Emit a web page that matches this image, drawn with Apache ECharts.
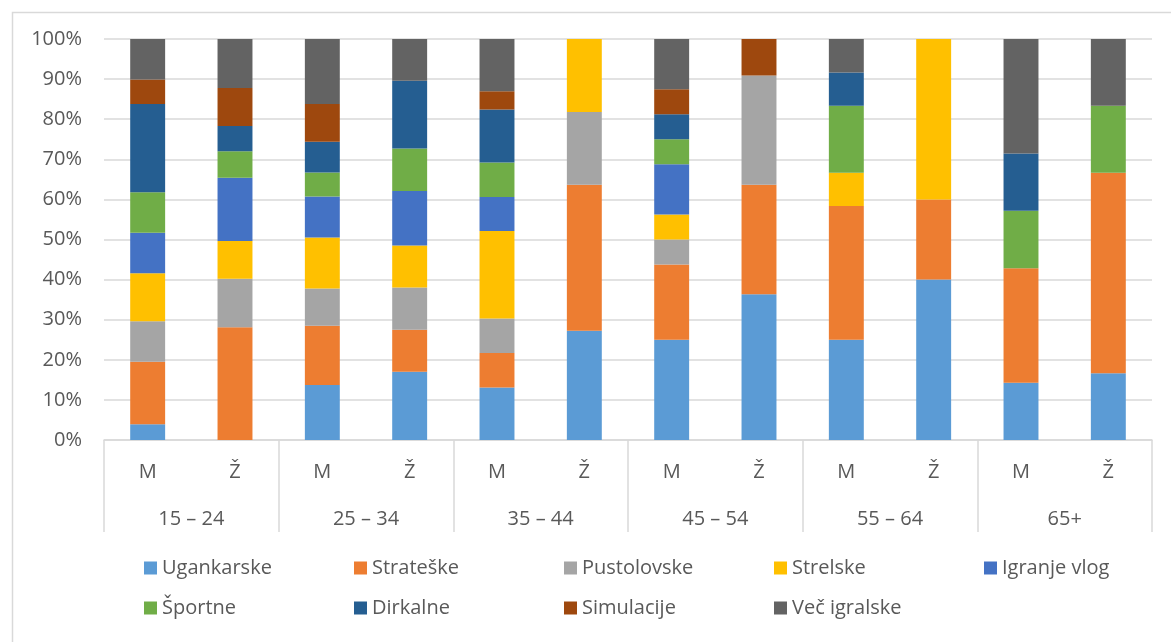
<!DOCTYPE html>
<html>
<head>
<meta charset="utf-8">
<script src="https://cdn.jsdelivr.net/npm/echarts@6/dist/echarts.min.js"></script>
<style>
html,body{margin:0;padding:0;background:#fff;}
#c{width:1171px;height:642px;}
</style>
</head>
<body>
<div id="c"></div>
<script>
// Categories
const genders = ['M','Ž','M','Ž','M','Ž','M','Ž','M','Ž','M','Ž'];
const ageGroups = ['15 – 24','25 – 34','35 – 44','45 – 54','55 – 64','65+'];
const yTicks = [0,10,20,30,40,50,60,70,80,90,100];

// Series values (% of each bar)
const ugankarske  = [3.9, 0,    13.7, 17.0, 13.1, 27.27, 25.0, 36.36, 25.0, 40.0, 14.29, 16.67];
const strateske   = [15.6, 28.1, 14.8, 10.5, 8.6, 36.36, 18.75, 27.27, 33.33, 20.0, 28.57, 50.0];
const pustolovske = [10.1, 12.1, 9.3, 10.5, 8.6, 18.18, 6.25, 27.27, 0, 0, 0, 0];
const strelske    = [12.0, 9.4, 12.7, 10.5, 21.8, 18.18, 6.25, 0, 8.33, 40.0, 0, 0];
const igranjeVlog = [10.1, 15.8, 10.2, 13.6, 8.5, 0, 12.5, 0, 0, 0, 0, 0];
const sportne     = [10.1, 6.6, 6.0, 10.6, 8.6, 0, 6.25, 0, 16.67, 0, 14.29, 16.67];
const dirkalne    = [22.0, 6.3, 7.7, 16.9, 13.2, 0, 6.25, 0, 8.33, 0, 14.29, 0];
const simulacije  = [6.1, 9.5, 9.4, 0, 4.6, 0, 6.25, 9.09, 0, 0, 0, 0];
const vecIgralske = [10.1, 12.2, 16.2, 10.4, 13.0, 0, 12.5, 0, 8.33, 0, 28.57, 16.67];

const seriesNames = ['Ugankarske','Strateške','Pustolovske','Strelske','Igranje vlog','Športne','Dirkalne','Simulacije','Več igralske'];
const seriesData = [ugankarske, strateske, pustolovske, strelske, igranjeVlog, sportne, dirkalne, simulacije, vecIgralske];
const colors = ['#5B9BD5','#ED7D31','#A5A5A5','#FFC000','#4472C4','#70AD47','#255E91','#9E480E','#636363'];

const FONT = '"Open Sans", "Noto Sans", sans-serif';
const TXT = '#595959';

const chart = echarts.init(document.getElementById('c'), null, {renderer:'canvas'});
chart.setOption({
  animation:false,
  color: colors,
  textStyle:{fontFamily:FONT},
  graphic:[{
    type:'rect', left:10, top:10, z:-1,
    shape:{x:0,y:0,width:1200,height:700},
    style:{fill:'none', stroke:'#D9D9D9', lineWidth:1.5}
  }],
  grid:{left:104, right:19, top:39, bottom:202, containLabel:false},
  legend:{
    left:144, top:553, width:1045, padding:0,
    itemWidth:13, itemHeight:13, itemGap:10,
    icon:'rect',
    data: seriesNames,
    textStyle:{color:TXT, fontSize:20, fontFamily:FONT, width:182, lineHeight:30}
  },
  xAxis:[{
    type:'category', data: genders, position:'bottom',
    axisLine:{show:true, lineStyle:{color:'#D9D9D9', width:1.5}},
    axisTick:{show:false},
    axisLabel:{color:TXT, fontSize:20, fontFamily:FONT, margin:22}
  },{
    type:'category', data: ageGroups, position:'bottom', offset:92,
    axisLine:{show:false},
    axisTick:{show:true, inside:true, length:92, lineStyle:{color:'#D9D9D9', width:1.5}},
    axisLabel:{color:TXT, fontSize:20, fontFamily:FONT, inside:true, margin:3}
  }],
  yAxis:{
    type:'value', min:yTicks[0], max:yTicks[yTicks.length-1], interval:10,
    axisLine:{show:false}, axisTick:{show:false},
    axisLabel:{formatter:'{value}%', color:TXT, fontSize:20, fontFamily:FONT, margin:22},
    splitLine:{lineStyle:{color:'#D9D9D9', width:1.5}}
  },
  series: seriesNames.map((n,i)=>({
    name:n, type:'bar', stack:'total', xAxisIndex:0,
    barCategoryGap:'60%',
    data: seriesData[i],
    itemStyle:{color:colors[i]}
  }))
});
</script>
</body>
</html>
